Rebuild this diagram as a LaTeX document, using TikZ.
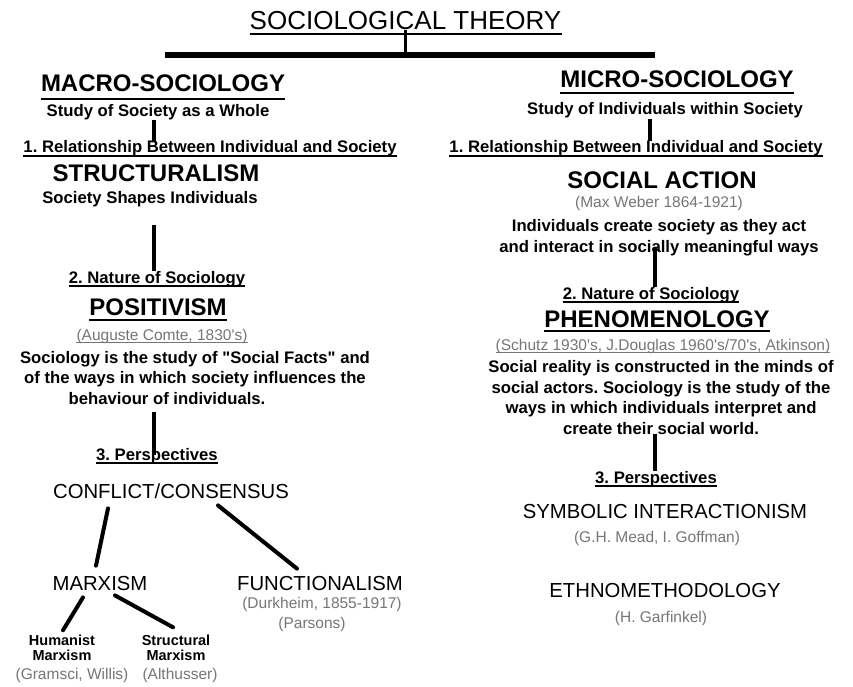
\documentclass[tikz,border=0pt]{standalone}
\usepackage{fontspec}
\setmainfont{Liberation Sans}
\usepackage{tikz}
\definecolor{citegray}{HTML}{767676}

\begin{document}
\frenchspacing
\begin{tikzpicture}[x=1pt, y=-1pt,
  every node/.style={inner sep=0pt, anchor=base},
  titletext/.style={font=\fontsize{26}{30}\selectfont},
  headtext/.style={font=\fontsize{24}{28}\selectfont\bfseries},
  subtext/.style={font=\fontsize{16.7}{20.5}\selectfont\bfseries, align=center},
  citetext/.style={font=\fontsize{15.5}{18}\selectfont, text=citegray},
  persptext/.style={font=\fontsize{20.3}{24}\selectfont},
  smalltext/.style={font=\fontsize{14.5}{15}\selectfont\bfseries, align=center},
  uline/.style={draw=black, line width=1.3pt},
  culine/.style={draw=citegray, line width=1pt},
  ul/.style={append after command={([yshift=-#1]\tikzlastnode.base west) edge[uline] ([yshift=-#1]\tikzlastnode.base east)}},
  cul/.style={append after command={([yshift=-#1]\tikzlastnode.base west) edge[culine] ([yshift=-#1]\tikzlastnode.base east)}},
  conn/.style={line width=4.5pt},
  diag/.style={line width=4pt, line cap=round}
]
\fill[white] (0,0) rectangle (853,687);
\useasboundingbox (0,0) rectangle (853,687);

\node[titletext, ul=4pt] (ntitle) at (405.5,30) {SOCIOLOGICAL THEORY};

% macro side
\node[headtext, ul=7pt] (nmacro)    at (163,92)    {MACRO-SOCIOLOGY};
\node[subtext]          (nmacrosub) at (158,116.7) {Study of Society as a Whole};
\node[subtext, ul=3pt]  (nrelL)     at (210,153)   {1. Relationship Between Individual and Society};
\node[headtext]         (nstruct)   at (156,182)   {STRUCTURALISM};
\node[subtext]          (nshapes)   at (150,203)   {Society Shapes Individuals};
\node[subtext, ul=3pt]  (nnatL)     at (157,283)   {2. Nature of Sociology};
\node[headtext, ul=5pt] (npos)      at (158,315)   {POSITIVISM};
\node[citetext, cul=2pt] (ncomte)   at (162,340)   {(Auguste Comte, 1830\textquotesingle s)};
% multi-line nodes sit on their last line
\node[subtext]          (nfactsL)   at (195,404)
  {Sociology is the study of \textquotedbl Social Facts\textquotedbl{} and\\of the ways in which society influences the\\behaviour of individuals.\hspace*{56pt}};
\node[subtext, ul=3pt]  (npersL)    at (157,460)   {3. Perspectives};
\node[persptext]        (nconf)     at (171,498)   {CONFLICT/CONSENSUS};
\node[persptext]        (nmarx)     at (100,590)   {MARXISM};
\node[persptext]        (nfunc)     at (320,590)   {FUNCTIONALISM};
\node[citetext]         (ndurk)     at (322,608)   {(Durkheim, 1855-1917)};
\node[citetext]         (npars)     at (312,628)   {(Parsons)};
\node[smalltext]        (nhum)      at (62,660)    {Humanist\\Marxism};
\node[smalltext]        (nstrm)     at (176,660)   {Structural\\Marxism};
\node[citetext]         (ngram)     at (72,679)    {(Gramsci, Willis)};
\node[citetext]         (nalth)     at (180,679)   {(Althusser)};

% micro side
\node[headtext, ul=5pt] (nmicro)    at (677,88)    {MICRO-SOCIOLOGY};
\node[subtext]          (nmicrosub) at (665,115)   {Study of Individuals within Society};
\node[subtext, ul=3pt]  (nrelR)     at (636,153)   {1. Relationship Between Individual and Society};
\node[headtext]         (nsocact)   at (662,188)   {SOCIAL ACTION};
\node[citetext]         (nweber)    at (659,207)   {(Max Weber 1864-1921)};
\node[subtext]          (nactR)     at (659,252)
  {Individuals create society as they act\\and interact in socially meaningful ways};
\node[subtext, ul=3pt]  (nnatR)     at (651,299)   {2. Nature of Sociology};
\node[headtext, ul=4pt] (nphen)     at (657,327)   {PHENOMENOLOGY};
\node[citetext, cul=2pt] (nschutz)  at (663,350)
  {(Schutz 1930\textquotesingle s, J.Douglas 1960\textquotesingle s/70\textquotesingle s, Atkinson)};
\node[subtext]          (nrealR)    at (661,434)
  {Social reality is constructed in the minds of\\social actors. Sociology is the study of the\\ways in which individuals interpret and\\create their social world.};
\node[subtext, ul=3pt]  (npersR)    at (656,483)   {3. Perspectives};
\node[persptext]        (nsym)      at (665,518)   {SYMBOLIC INTERACTIONISM};
\node[citetext]         (nmead)     at (657,542)   {(G.H. Mead, I. Goffman)};
\node[persptext]        (nethno)    at (665,597)   {ETHNOMETHODOLOGY};
\node[citetext]         (ngarf)     at (661,622)   {(H. Garfinkel)};

% bar under the title
\coordinate (nbarL) at (165,55);
\coordinate (nbarR) at (655,55);
\coordinate (lcol)  at (154,0);
\coordinate (rcolA) at (650,0);
\coordinate (rcolB) at (655,0);
\draw[line width=6pt] (nbarL) -- (nbarR);
\draw[line width=3.5pt] (ntitle.south) -- (ntitle.south |- nbarL);

\draw[conn] (nmacrosub.south -| lcol) -- (nrelL.north -| lcol);
\draw[conn, shorten <=18pt] (nshapes.south -| lcol) -- (nnatL.north -| lcol);
\draw[conn, shorten <=8pt, shorten >=-7pt] (nfactsL.south -| lcol) -- (npersL.north -| lcol);
\draw[conn] (nmicrosub.south -| rcolA) -- (nrelR.north -| rcolA);
\draw[conn, shorten <=-8pt] (nactR.south -| rcolB) -- (nnatR.north -| rcolB);
\draw[conn] (nrealR.south -| rcolB) -- (npersR.north -| rcolB);

\draw[diag] ([xshift=-63pt, yshift=-10pt]nconf.south) -- ([xshift=-4pt, yshift=10pt]nmarx.north);
\draw[diag] ([xshift=47pt, yshift=-7pt]nconf.south) -- ([xshift=-23pt, yshift=7pt]nfunc.north);
\draw[diag] ([xshift=-17pt, yshift=-7pt]nmarx.south) -- ([xshift=1pt, yshift=4pt]nhum.north);
\draw[diag] ([xshift=15pt, yshift=-5pt]nmarx.south) -- ([xshift=-3pt, yshift=7pt]nstrm.north);
\end{tikzpicture}
\end{document}
